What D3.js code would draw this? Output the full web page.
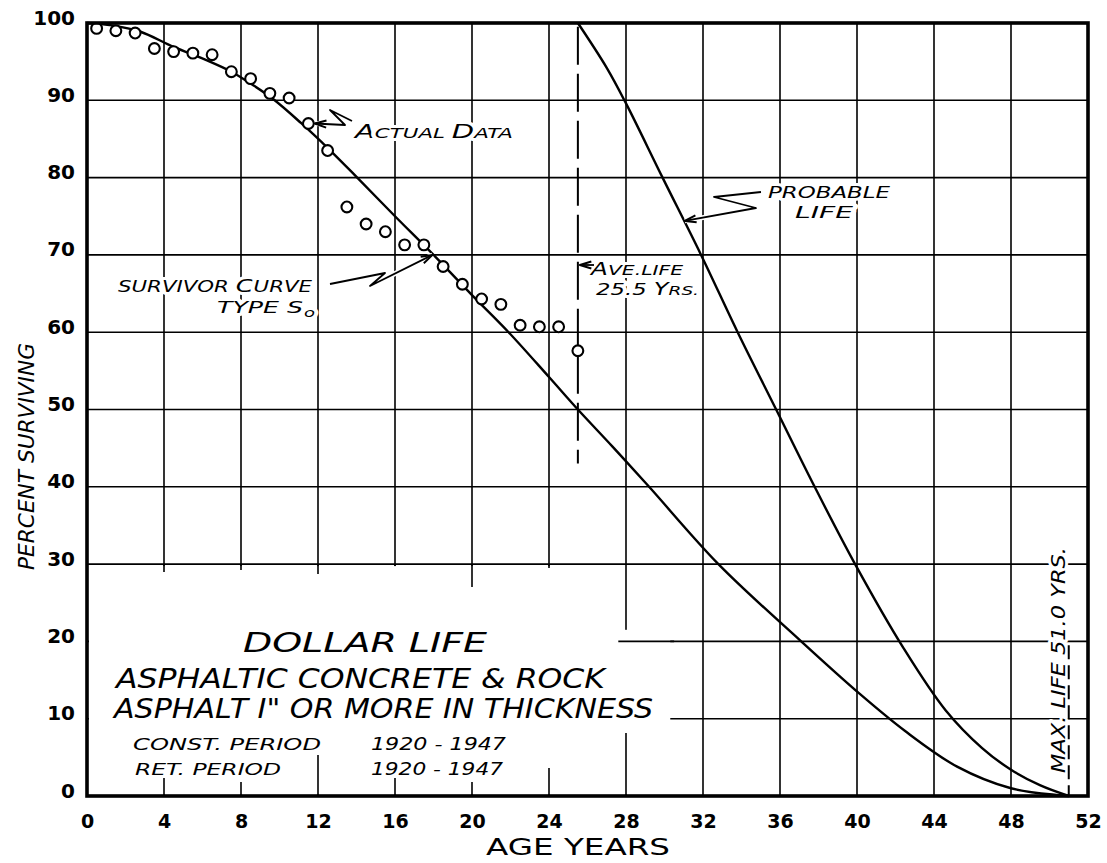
<!DOCTYPE html>
<html>
<head>
<meta charset="utf-8">
<script src="https://cdn.jsdelivr.net/npm/d3@7"></script>
<style>
    html, body { margin: 0; padding: 0; background: #fff; }
    svg { display: block; }
    .lbl { font-family: "DejaVu Sans", sans-serif; font-style: italic; fill: #000; }
    .halo { stroke: #fff; stroke-width: 6; stroke-linejoin: round; paint-order: stroke; }
    .tick text { font-family: "DejaVu Sans", sans-serif; font-weight: bold; fill: #000; }
</style>
</head>
<body>
<svg id="chart" width="1107" height="863"></svg>
<script>
// actual data: percent surviving at the middle of each age year
const dataAges = [0.5, 1.5, 2.5, 3.5, 4.5, 5.5, 6.5, 7.5, 8.5, 9.5, 10.5, 11.5, 12.5,
    13.5, 14.5, 15.5, 16.5, 17.5, 18.5, 19.5, 20.5, 21.5, 22.5, 23.5, 24.5, 25.5];
const dataPct = [99.3, 99.0, 98.7, 96.7, 96.3, 96.1, 95.9, 93.7, 92.8, 90.9, 90.3, 87.0, 83.5,
    76.2, 74.0, 73.0, 71.3, 71.3, 68.5, 66.2, 64.3, 63.6, 60.9, 60.7, 60.7, 57.6];

// survivor curve type S0
const survivorAges = [0, 1.3, 2.75, 4.5, 6.2, 7.5, 8.6, 9.7, 11.1, 12.6, 14.0, 16.0, 18.0, 20.0,
    21.9, 24.0, 25.5, 27.3, 29.2, 32.8, 37.1, 40.1, 42.5, 45.2, 48.0, 50.5, 51.0];
const survivorPct = [100, 99.7, 98.9, 96.9, 95.2, 93.7, 92.0, 90.1, 87.1, 83.6, 80.1, 75.0, 70.0, 64.8,
    60.0, 54.2, 50.0, 45.2, 40.0, 30.0, 20.0, 13.3, 8.4, 3.8, 1.0, 0.1, 0];

// probable life curve
const probableAges = [25.5, 27.0, 28.0, 29.9, 31.9, 33.8, 35.8, 37.8, 39.9, 42.4, 44.6, 46.5, 48.0, 49.5, 51.0];
const probablePct = [100, 94.2, 89.6, 80, 70, 60, 50, 40, 30, 19.2, 11.1, 6.2, 3.4, 1.4, 0];

const AVE_LIFE = 25.5;
const MAX_LIFE = 51.0;

const xTicks = [0, 4, 8, 12, 16, 20, 24, 28, 32, 36, 40, 44, 48, 52];
const yTicks = [0, 10, 20, 30, 40, 50, 60, 70, 80, 90, 100];

const svg = d3.select('#chart');
const x = d3.scaleLinear().domain([0, 52]).range([87, 1088]);
const y = d3.scaleLinear().domain([0, 100]).range([796, 23]);

// grid
const grid = svg.append('g').attr('stroke', '#000').attr('stroke-width', 1.6);
grid.selectAll('line.v')
    .data(xTicks.slice(1, -1))
    .join('line')
    .attr('class', 'v')
    .attr('x1', d => x(d)).attr('x2', d => x(d))
    .attr('y1', y(100)).attr('y2', y(0));
grid.selectAll('line.h')
    .data(yTicks.slice(1, -1))
    .join('line')
    .attr('class', 'h')
    .attr('x1', x(0)).attr('x2', x(52))
    .attr('y1', d => y(d)).attr('y2', d => y(d));

// blank area for the title block
svg.append('rect')
    .attr('x', x(0) + 2).attr('y', y(30) + 2)
    .attr('width', x(28) - 4 - x(0) - 2).attr('height', y(0) - y(30) - 4)
    .attr('fill', '#fff');
svg.append('rect')
    .attr('x', x(28) - 4).attr('y', y(21.5))
    .attr('width', x(30.3) - x(28) + 4).attr('height', y(0) - y(21.5) - 2)
    .attr('fill', '#fff');

const stubs = svg.append('g').attr('stroke', '#000').attr('stroke-width', 1.6);
stubs.append('line')
    .attr('x1', x(27.6)).attr('x2', x(30.5))
    .attr('y1', y(20)).attr('y2', y(20));
const topStub = [8, 6, 10, 2, 23, 4];
const botStub = [18, 14, 41, 18, 14, 28, 63];
stubs.selectAll('line.ts')
    .data(topStub)
    .join('line')
    .attr('class', 'ts')
    .attr('x1', (d, i) => x(4 * (i + 1))).attr('x2', (d, i) => x(4 * (i + 1)))
    .attr('y1', y(30)).attr('y2', d => y(30) + d);
stubs.selectAll('line.bs')
    .data(botStub)
    .join('line')
    .attr('class', 'bs')
    .attr('x1', (d, i) => x(4 * (i + 1))).attr('x2', (d, i) => x(4 * (i + 1)))
    .attr('y1', y(0)).attr('y2', d => y(0) - d);

// axes labels
const xAxis = svg.append('g')
    .attr('transform', `translate(0,${y(0)})`)
    .call(d3.axisBottom(x).tickValues(xTicks).tickSize(0).tickFormat(d3.format('d')));
xAxis.select('.domain').remove();
xAxis.selectAll('text').attr('y', 32).attr('dy', 0).style('font-size', '19px');

const yAxis = svg.append('g')
    .attr('transform', 'translate(75,0)')
    .call(d3.axisLeft(y).tickValues(yTicks).tickSize(0).tickFormat(d3.format('d')));
yAxis.select('.domain').remove();
yAxis.selectAll('text').attr('x', 0).attr('y', 1).attr('dy', 0).style('font-size', '20px');

function note(str, px, py, len, size, halo = true) {
    const t = svg.append('text')
        .attr('class', halo ? 'lbl halo' : 'lbl')
        .attr('x', px).attr('y', py)
        .attr('textLength', len).attr('lengthAdjust', 'spacingAndGlyphs')
        .style('font-size', size + 'px')
        .text(str);
    return t;
}

// title block
note('DOLLAR LIFE', 243, 652, 244, 27, false);
note('ASPHALTIC  CONCRETE & ROCK', 116, 688, 489, 26, false);
note('ASPHALT I" OR MORE IN THICKNESS', 114, 718, 539, 26, false);
note('CONST. PERIOD', 133, 750, 188, 16, false);
note('1920 - 1947', 371, 750, 135, 17, false);
note('RET. PERIOD', 135, 775, 146, 16, false);
note('1920 - 1947', 371, 775, 132, 17, false);

// annotations
const actual = note('', 355, 138, 158, 14);
actual.append('tspan').style('font-size', '19px').text('A');
actual.append('tspan').text('CTUAL ');
actual.append('tspan').style('font-size', '19px').text('D');
actual.append('tspan').text('ATA');

const surv = note('', 118, 292, 194, 15);
surv.append('tspan').text('SURVIVOR ');
surv.append('tspan').style('font-size', '18px').text('C');
surv.append('tspan').text('URVE');
note('TYPE  S', 217, 313, 86, 16);
note('o', 304, 317, 11, 13);

note('PROBABLE', 768, 198, 122, 16);
note('LIFE', 795, 218, 58, 16);

const ave = note('', 591, 275, 92, 14);
ave.append('tspan').style('font-size', '17px').text('A');
ave.append('tspan').text('VE.LIFE');
const yrs = note('', 596, 295, 103, 16);
yrs.append('tspan').text('25.5 ');
yrs.append('tspan').style('font-size', '17px').text('Y');
yrs.append('tspan').style('font-size', '13px').text('RS.');

svg.append('text')
    .attr('class', 'lbl halo')
    .attr('transform', `translate(1065,773) rotate(-90)`)
    .attr('textLength', 226).attr('lengthAdjust', 'spacingAndGlyphs')
    .style('font-size', '19px')
    .text('MAX. LIFE 51.0 YRS.');

svg.append('text')
    .attr('class', 'lbl')
    .attr('transform', 'translate(34,570) rotate(-90)')
    .attr('textLength', 227).attr('lengthAdjust', 'spacingAndGlyphs')
    .style('font-size', '21px')
    .text('PERCENT SURVIVING');

svg.append('text')
    .attr('x', 486).attr('y', 855)
    .attr('textLength', 184).attr('lengthAdjust', 'spacingAndGlyphs')
    .style('font-family', '"DejaVu Sans", sans-serif')
    .style('font-size', '23px')
    .text('AGE YEARS');

// dashed life lines
svg.append('line')
    .attr('x1', x(AVE_LIFE)).attr('x2', x(AVE_LIFE))
    .attr('y1', y(99.5)).attr('y2', y(43))
    .attr('stroke', '#000').attr('stroke-width', 2)
    .attr('stroke-dasharray', '38,9');
svg.append('line')
    .attr('x1', x(MAX_LIFE)).attr('x2', x(MAX_LIFE))
    .attr('y1', y(19.5)).attr('y2', y(0))
    .attr('stroke', '#000').attr('stroke-width', 2)
    .attr('stroke-dasharray', '14,6');

// curves
const line = d3.line()
    .x(d => x(d[0]))
    .y(d => y(d[1]))
    .curve(d3.curveCatmullRom.alpha(0.5));

svg.append('path')
    .datum(d3.zip(survivorAges, survivorPct))
    .attr('d', line)
    .attr('fill', 'none').attr('stroke', '#000').attr('stroke-width', 2.4);
svg.append('path')
    .datum(d3.zip(probableAges, probablePct))
    .attr('d', line)
    .attr('fill', 'none').attr('stroke', '#000').attr('stroke-width', 2.4);

// actual data points
svg.append('g')
    .selectAll('circle')
    .data(d3.zip(dataAges, dataPct))
    .join('circle')
    .attr('cx', d => x(d[0]))
    .attr('cy', d => y(d[1]))
    .attr('r', 5.4)
    .attr('fill', '#fff')
    .attr('stroke', '#000')
    .attr('stroke-width', 2.1);

// frame
svg.append('rect')
    .attr('x', x(0)).attr('y', y(100))
    .attr('width', x(52) - x(0)).attr('height', y(0) - y(100))
    .attr('fill', 'none').attr('stroke', '#000').attr('stroke-width', 3.6);

// zigzag leaders with arrow heads
function leader(pts) {
    const g = svg.append('g').attr('fill', 'none').attr('stroke-linejoin', 'round');
    const p = d3.line()(pts);
    g.append('path').attr('d', p).attr('stroke', '#fff').attr('stroke-width', 5);
    g.append('path').attr('d', p).attr('stroke', '#000').attr('stroke-width', 1.8);
    const tip = pts[pts.length - 1];
    const prev = pts[pts.length - 2];
    const a = Math.atan2(prev[1] - tip[1], prev[0] - tip[0]);
    const b1 = [tip[0] + 12 * Math.cos(a + 0.3), tip[1] + 12 * Math.sin(a + 0.3)];
    const b2 = [tip[0] + 12 * Math.cos(a - 0.3), tip[1] + 12 * Math.sin(a - 0.3)];
    g.append('path').attr('d', d3.line()([b1, tip, b2]))
        .attr('stroke', '#000').attr('stroke-width', 2);
}

leader([[352, 121], [330, 110], [345, 125], [x(11.5) + 6.5, y(87)]]);
leader([[330, 284], [385, 273], [370, 286], [x(18) - 1, y(70)]]);
leader([[761, 192], [714, 197], [756, 208], [x(31) + 1, y(74.4)]]);
leader([[594, 265], [x(AVE_LIFE) + 2, 265]]);
</script>
</body>
</html>
